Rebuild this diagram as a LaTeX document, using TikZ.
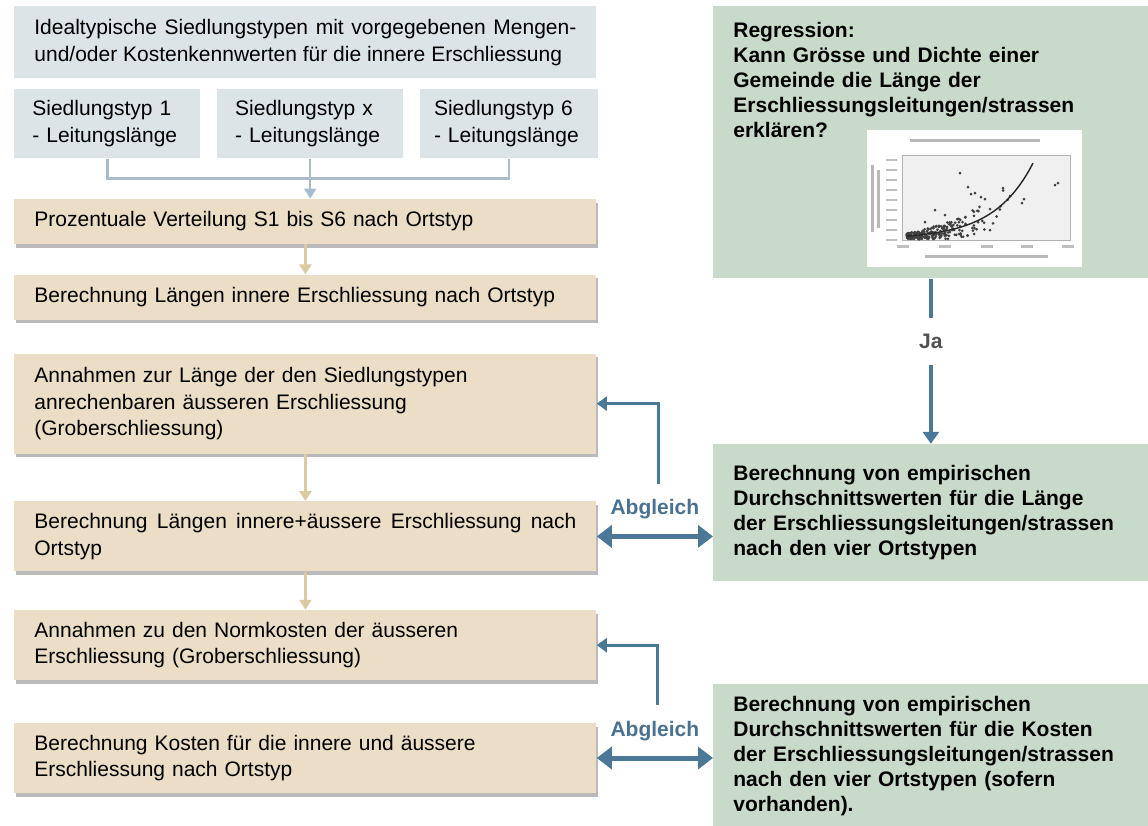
\documentclass[tikz,border=0pt]{standalone}
\usepackage{fontspec}
\setmainfont{Liberation Sans}
\usetikzlibrary{arrows.meta,positioning,calc,shadows}
\definecolor{boxgray}{HTML}{DDE4E8}
\definecolor{brkgray}{HTML}{A9BCCB}
\definecolor{boxtan}{HTML}{EBDDC6}
\definecolor{arrtan}{HTML}{DCCBA2}
\definecolor{boxgreen}{HTML}{C8DBCB}
\definecolor{arrblue}{HTML}{4B7896}
\definecolor{lblblue}{HTML}{4A7290}
\definecolor{jagray}{HTML}{505050}

\begin{document}
\begin{tikzpicture}[x=0.5pt,y=-0.5pt,
  font=\fontsize{10.5}{13.25}\selectfont, node distance=5pt,
  gb/.style={fill=boxgray,inner xsep=10pt,inner ysep=0pt,align=left},
  tb/.style={fill=boxtan,text width=271pt,inner xsep=10pt,inner ysep=0pt,align=left,
    drop shadow={shadow xshift=1pt,shadow yshift=-1.8pt,fill=black!45,opacity=.6}},
  rb/.style={fill=boxgreen,text width=197.5pt,inner xsep=10pt,inner ysep=0pt,align=left,
    font=\fontsize{10.5}{12.5}\selectfont\bfseries},
  ta/.style={draw=arrtan,line width=1.5pt,-{Triangle[length=5pt,width=6pt]}},
  bk/.style={draw=brkgray,line width=1.2pt},
  ba/.style={draw=arrblue,line width=1.6pt,-{Triangle[length=5pt,width=7pt]}},
  da/.style={draw=arrblue,line width=2.5pt,{Triangle[length=7.5pt,width=11pt]}-{Triangle[length=7.5pt,width=11pt]}},
  lb/.style={font=\fontsize{10.5}{12}\selectfont\bfseries,text=lblblue}]

\useasboundingbox (0,0) rectangle (1148,826);

\node[gb,text width=271pt,minimum height=36pt,align=justify,anchor=north west] (ideal) at (14,6)
  {Idealtypische Siedlungstypen mit vorgegebenen Mengen-\linebreak und/oder Kostenkennwerten für die innere Erschliessung};
\node[gb,text width=75pt,inner xsep=9pt,minimum height=34.5pt,below=5pt of ideal.south west,anchor=north west] (typ1) {Siedlungstyp 1\\- Leitungslänge};
\node[gb,text width=75pt,inner xsep=9pt,minimum height=34.5pt,right=8pt of typ1] (typ2) {Siedlungstyp x\\- Leitungslänge};
\node[gb,text width=75pt,inner xsep=7pt,minimum height=34.5pt,right=8pt of typ2] (typ3) {Siedlungstyp 6\\- Leitungslänge};

\node[tb,minimum height=22.5pt,below=20pt of typ1.south west,anchor=north west] (vert) {Prozentuale Verteilung S1 bis S6 nach Ortstyp};
\node[tb,minimum height=22.5pt,below=15pt of vert] (laeng) {Berechnung Längen innere Erschliessung nach Ortstyp};
\node[tb,minimum height=50pt,below=16.5pt of laeng] (annl) {Annahmen zur Länge der den Siedlungstypen\\anrechenbaren äusseren Erschliessung\\(Groberschliessung)};
\node[tb,minimum height=35pt,below=23.5pt of annl,align=justify] (laengab) {Berechnung Längen innere+äussere Erschliessung nach\linebreak Ortstyp};
\node[tb,minimum height=35pt,below=19pt of laengab] (annk) {Annahmen zu den Normkosten der äusseren\\Erschliessung (Groberschliessung)};
\node[tb,minimum height=35pt,below=21pt of annk] (kost) {Berechnung Kosten für die innere und äussere\\Erschliessung nach Ortstyp};

\node[rb,minimum height=136pt,anchor=north west] (regr) at (713,6) {};
\node[rb,fill=none,anchor=north west] (regrtxt) at ([yshift=-8pt]regr.north west)
  {Regression:\\Kann Grösse und Dichte einer\\Gemeinde die Länge der\\Erschliessungsleitungen/strassen\\erklären?};
\node[rb,minimum height=68.5pt,below=82.5pt of regr] (empl) {Berechnung von empirischen\\Durchschnittswerten für die Länge\\der Erschliessungsleitungen/strassen\\nach den vier Ortstypen};
\node[rb,minimum height=72pt,below=51pt of empl] (empk) {Berechnung von empirischen\\Durchschnittswerten für die Kosten\\der Erschliessungsleitungen/strassen\\nach den vier Ortstypen (sofern\\vorhanden).};

\fill[white] (867,130) rectangle (1082,267);
\filldraw[fill=gray!12,draw=gray!60,line width=.3pt] (902,155) rectangle (1070,240);
\fill[gray!55] (910,139) rectangle (1040,142);
\fill[gray!55] (871,165) rectangle (873.5,232);
\fill[gray!55] (877,170) rectangle (879.5,228);
\foreach \y in {160,170,...,240} \fill[gray!50] (886,\y-1) rectangle (897,\y+1);
\foreach \x in {903,945,987,1027,1068} \fill[gray!50] (\x-6,245) rectangle (\x+6,247.5);
\fill[gray!55] (925,255) rectangle (1048,258);
\pgfmathsetseed{11}
\foreach \i in {1,...,260}{
  \pgfmathsetmacro\px{907+105*rnd*rnd}
  \pgfmathsetmacro\py{min(239,236-3*(exp((\px-907)/39)-1)+rand*(2.5+0.15*(\px-907)))}
  \fill[black!75] (\px,\py) circle[radius=.75pt];
}
\foreach \x/\y in {960/173,968/187,971/194,975/193,981/197,985/199,990/209,1003/188,1010/196,1022/203,1024/199,1058/183,1055/185,950/224,960/226,990/230,935/210,945/215,925/222}
  \fill[black!75] (\x,\y) circle[radius=.75pt];
\draw[black!85,line width=.7pt] plot[domain=907:1033,samples=40] (\x,{236-3*(exp((\x-907)/39)-1)});

\coordinate[below=10pt of typ2.south] (brk);
\draw[bk] (typ1.south) |- (brk) -| (typ3.south);
\draw[bk,-{Triangle[length=5pt,width=6pt]}] (typ2.south) -- (typ2.south |- vert.north);
\foreach \a/\b in {vert/laeng,annl/laengab,laengab/annk} \draw[ta] (\a) -- (\b);

\draw[ba,line width=2pt,-{Triangle[length=6pt,width=8pt]}] (regr) -- node[pos=.38,fill=white,inner ysep=8pt,font=\fontsize{10.5}{12}\selectfont\bfseries,text=jagray]{Ja} (empl);

\coordinate (fb1) at ($(annl.east)+(31pt,-40pt)$);
\coordinate (fb2) at ($(annk.east)+(30.5pt,-30pt)$);
\draw[ba] (fb1) |- (annl.east);
\draw[ba] (fb2) |- (annk.east);
\draw[da] (laengab.east) -- node[above=4pt,lb]{Abgleich} (laengab.east -| empl.west);
\draw[da] (kost.east) -- node[above=4pt,lb]{Abgleich} (kost.east -| empk.west);
\end{tikzpicture}
\end{document}
